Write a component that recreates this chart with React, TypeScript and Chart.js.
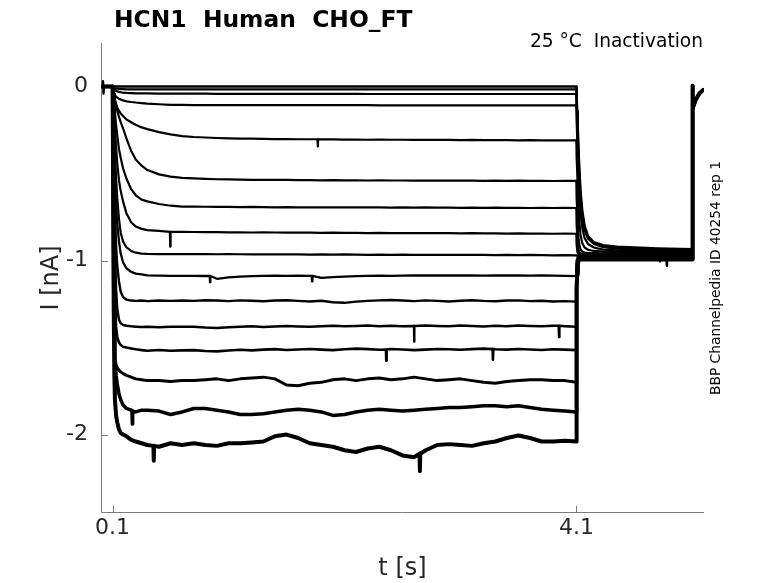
import { useEffect, useRef } from "react";
import { Chart, registerables } from "chart.js";

Chart.register(...registerables);

const TITLE = "HCN1  Human  CHO_FT";
const SUBTITLE = "25 °C  Inactivation";
const SIDE_NOTE = "BBP Channelpedia ID 40254 rep 1";
const X_LABEL = "t [s]";
const Y_LABEL = "I [nA]";
const X_TICKS = [0.1, 4.1];
const Y_TICKS = [0, -1, -2];
const X_RANGE = [0, 5.2];
const Y_RANGE = [-2.445, 0.25];

// time grids (s)
const EARLY_T = [0.005, 0.1, 0.103, 0.106, 0.11, 0.115, 0.12, 0.13, 0.14, 0.155, 0.17, 0.19, 0.22, 0.26, 0.3, 0.35, 0.4, 0.5, 0.6, 0.7];
const STEADY_T = [0.8, 0.9, 1.0, 1.1, 1.2, 1.3, 1.4, 1.5, 1.6, 1.7, 1.8, 1.9, 2.0, 2.1, 2.2, 2.3, 2.4, 2.5, 2.6, 2.7, 2.8, 2.9, 3.0, 3.1, 3.2, 3.3, 3.4, 3.5, 3.6, 3.7, 3.8, 3.9, 4.0, 4.099];
const TAIL_T = [4.1, 4.103, 4.107, 4.112, 4.118, 4.125, 4.135, 4.15, 4.17, 4.2, 4.25, 4.33, 4.45, 4.6, 4.8, 5.0, 5.098];
const END_T = [5.101, 5.103, 5.13, 5.16, 5.2];
const END_I = [0.005, -0.125, -0.075, -0.04, -0.015];

// current (nA), one row per sweep
const EARLY_I = [
  [0, 0, 0, 0, 0, 0, 0, 0, 0, 0, 0, 0, 0, 0, 0, 0, 0, 0, 0, 0],
  [0, 0, -0.003, -0.005, -0.007, -0.009, -0.01, -0.012, -0.013, -0.014, -0.015, -0.015, -0.016, -0.016, -0.016, -0.016, -0.016, -0.016, -0.016, -0.016],
  [0, 0, -0.005, -0.01, -0.014, -0.018, -0.021, -0.025, -0.028, -0.031, -0.033, -0.035, -0.037, -0.038, -0.039, -0.04, -0.04, -0.041, -0.041, -0.041],
  [0, 0, -0.012, -0.022, -0.032, -0.042, -0.05, -0.058, -0.064, -0.07, -0.075, -0.08, -0.085, -0.089, -0.092, -0.095, -0.098, -0.102, -0.105, -0.106],
  [0, 0, -0.015, -0.03, -0.045, -0.06, -0.075, -0.1, -0.12, -0.14, -0.155, -0.17, -0.19, -0.205, -0.22, -0.235, -0.245, -0.262, -0.275, -0.285],
  [0, 0, -0.01, -0.025, -0.04, -0.06, -0.08, -0.11, -0.14, -0.175, -0.205, -0.24, -0.3, -0.37, -0.42, -0.455, -0.48, -0.505, -0.518, -0.525],
  [0, 0, -0.02, -0.045, -0.075, -0.11, -0.15, -0.22, -0.28, -0.36, -0.41, -0.47, -0.53, -0.59, -0.625, -0.65, -0.66, -0.675, -0.685, -0.69],
  [0, 0, -0.03, -0.07, -0.12, -0.18, -0.24, -0.35, -0.44, -0.54, -0.6, -0.66, -0.73, -0.78, -0.805, -0.818, -0.825, -0.83, -0.835, -0.835],
  [0, 0, -0.05, -0.11, -0.19, -0.29, -0.38, -0.53, -0.64, -0.76, -0.84, -0.89, -0.925, -0.945, -0.955, -0.96, -0.962, -0.963, -0.963, -0.963],
  [0, 0, -0.07, -0.16, -0.27, -0.4, -0.52, -0.69, -0.79, -0.89, -0.96, -1.01, -1.045, -1.065, -1.075, -1.08, -1.085, -1.087, -1.088, -1.088],
  [0, 0, -0.1, -0.22, -0.38, -0.56, -0.72, -0.92, -1.03, -1.12, -1.18, -1.21, -1.225, -1.23, -1.232, -1.23, -1.233, -1.23, -1.232, -1.23],
  [0, 0, -0.13, -0.3, -0.52, -0.76, -0.95, -1.17, -1.28, -1.34, -1.36, -1.37, -1.375, -1.378, -1.38, -1.382, -1.38, -1.383, -1.381, -1.38],
  [0, 0, -0.18, -0.4, -0.7, -1.0, -1.2, -1.38, -1.44, -1.47, -1.485, -1.495, -1.5, -1.505, -1.51, -1.515, -1.518, -1.514, -1.518, -1.516],
  [0, 0, -0.3, -0.7, -1.15, -1.45, -1.56, -1.6, -1.615, -1.63, -1.64, -1.65, -1.66, -1.67, -1.68, -1.685, -1.69, -1.69, -1.695, -1.69],
  [0, 0, -0.3, -0.7, -1.15, -1.45, -1.57, -1.66, -1.71, -1.765, -1.8, -1.83, -1.85, -1.86, -1.87, -1.86, -1.86, -1.865, -1.885, -1.87],
  [0, 0, -0.35, -0.8, -1.3, -1.65, -1.8, -1.89, -1.93, -1.97, -1.99, -2.0, -2.01, -2.03, -2.04, -2.05, -2.06, -2.07, -2.05, -2.06],
];

const STEADY_I = [
  [0, 0, 0, 0, 0, 0, 0, 0, 0, 0, 0, 0, 0, 0, 0, 0, 0, 0, 0, 0, 0, 0, 0, 0, 0, 0, 0, 0, 0, 0, 0, 0, 0, 0],
  [-0.016, -0.016, -0.016, -0.016, -0.016, -0.016, -0.016, -0.016, -0.016, -0.016, -0.016, -0.016, -0.016, -0.016, -0.016, -0.016, -0.016, -0.016, -0.016, -0.016, -0.016, -0.016, -0.016, -0.016, -0.016, -0.016, -0.016, -0.016, -0.016, -0.016, -0.016, -0.016, -0.016, -0.016],
  [-0.041, -0.041, -0.042, -0.042, -0.042, -0.042, -0.042, -0.042, -0.042, -0.042, -0.042, -0.042, -0.042, -0.042, -0.042, -0.043, -0.043, -0.043, -0.043, -0.043, -0.043, -0.043, -0.043, -0.043, -0.043, -0.043, -0.043, -0.043, -0.043, -0.043, -0.043, -0.043, -0.043, -0.043],
  [-0.107, -0.107, -0.107, -0.107, -0.107, -0.107, -0.107, -0.107, -0.107, -0.107, -0.107, -0.107, -0.107, -0.107, -0.107, -0.107, -0.108, -0.108, -0.108, -0.108, -0.108, -0.108, -0.108, -0.108, -0.108, -0.108, -0.108, -0.108, -0.108, -0.108, -0.108, -0.108, -0.108, -0.108],
  [-0.29, -0.293, -0.296, -0.298, -0.3, -0.3, -0.301, -0.302, -0.302, -0.303, -0.303, -0.304, -0.304, -0.305, -0.305, -0.306, -0.305, -0.306, -0.306, -0.307, -0.306, -0.307, -0.307, -0.308, -0.307, -0.308, -0.308, -0.308, -0.309, -0.308, -0.309, -0.309, -0.31, -0.31],
  [-0.528, -0.531, -0.533, -0.534, -0.535, -0.536, -0.536, -0.537, -0.537, -0.538, -0.538, -0.539, -0.538, -0.539, -0.539, -0.54, -0.539, -0.54, -0.54, -0.541, -0.54, -0.541, -0.541, -0.54, -0.541, -0.542, -0.541, -0.542, -0.541, -0.542, -0.542, -0.543, -0.542, -0.542],
  [-0.69, -0.691, -0.692, -0.692, -0.693, -0.692, -0.693, -0.694, -0.693, -0.694, -0.694, -0.695, -0.694, -0.695, -0.695, -0.694, -0.695, -0.696, -0.695, -0.696, -0.695, -0.696, -0.696, -0.697, -0.696, -0.697, -0.696, -0.697, -0.697, -0.698, -0.697, -0.698, -0.697, -0.698],
  [-0.836, -0.837, -0.837, -0.838, -0.838, -0.839, -0.838, -0.839, -0.84, -0.839, -0.84, -0.841, -0.84, -0.841, -0.841, -0.842, -0.841, -0.842, -0.842, -0.843, -0.842, -0.843, -0.843, -0.844, -0.843, -0.844, -0.844, -0.845, -0.844, -0.845, -0.845, -0.846, -0.845, -0.846],
  [-0.963, -0.963, -0.964, -0.963, -0.964, -0.965, -0.964, -0.965, -0.964, -0.965, -0.966, -0.965, -0.966, -0.965, -0.966, -0.967, -0.966, -0.967, -0.966, -0.967, -0.968, -0.967, -0.968, -0.967, -0.968, -0.968, -0.969, -0.968, -0.969, -0.968, -0.969, -0.97, -0.969, -0.97],
  [-1.088, -1.089, -1.105, -1.097, -1.093, -1.09, -1.088, -1.087, -1.088, -1.087, -1.088, -1.1, -1.095, -1.092, -1.09, -1.088, -1.087, -1.088, -1.087, -1.086, -1.085, -1.086, -1.085, -1.086, -1.085, -1.087, -1.086, -1.085, -1.086, -1.087, -1.086, -1.087, -1.088, -1.09],
  [-1.232, -1.228, -1.23, -1.233, -1.229, -1.231, -1.234, -1.23, -1.228, -1.232, -1.235, -1.231, -1.24, -1.243, -1.236, -1.232, -1.229, -1.227, -1.23, -1.233, -1.229, -1.232, -1.235, -1.231, -1.228, -1.232, -1.234, -1.23, -1.229, -1.233, -1.231, -1.235, -1.233, -1.236],
  [-1.38, -1.385, -1.388, -1.384, -1.38, -1.378, -1.382, -1.379, -1.376, -1.379, -1.381, -1.377, -1.375, -1.378, -1.376, -1.374, -1.377, -1.375, -1.378, -1.376, -1.373, -1.376, -1.378, -1.374, -1.376, -1.379, -1.375, -1.377, -1.374, -1.376, -1.378, -1.375, -1.377, -1.38],
  [-1.515, -1.52, -1.522, -1.517, -1.513, -1.516, -1.512, -1.509, -1.514, -1.511, -1.508, -1.512, -1.515, -1.51, -1.506, -1.509, -1.513, -1.508, -1.511, -1.515, -1.512, -1.508, -1.51, -1.513, -1.509, -1.506, -1.51, -1.512, -1.508, -1.511, -1.514, -1.51, -1.512, -1.515],
  [-1.69, -1.685, -1.68, -1.69, -1.68, -1.675, -1.67, -1.68, -1.715, -1.72, -1.705, -1.7, -1.685, -1.68, -1.69, -1.68, -1.675, -1.685, -1.68, -1.67, -1.68, -1.69, -1.685, -1.68, -1.69, -1.7, -1.705, -1.695, -1.69, -1.685, -1.685, -1.69, -1.69, -1.7],
  [-1.85, -1.85, -1.86, -1.87, -1.885, -1.885, -1.88, -1.87, -1.86, -1.855, -1.86, -1.87, -1.89, -1.885, -1.87, -1.86, -1.855, -1.86, -1.865, -1.86, -1.855, -1.85, -1.845, -1.845, -1.84, -1.835, -1.835, -1.84, -1.835, -1.845, -1.855, -1.86, -1.865, -1.87],
  [-2.05, -2.06, -2.065, -2.05, -2.05, -2.045, -2.04, -2.01, -2.0, -2.02, -2.05, -2.06, -2.07, -2.09, -2.1, -2.08, -2.07, -2.09, -2.12, -2.13, -2.09, -2.06, -2.055, -2.06, -2.065, -2.05, -2.04, -2.02, -2.005, -2.02, -2.04, -2.04, -2.035, -2.04],
];

const TAIL_I = [
  [0, -0.06, -0.14, -0.24, -0.36, -0.47, -0.6, -0.71, -0.8, -0.86, -0.895, -0.912, -0.92, -0.925, -0.93, -0.933, -0.935],
  [-0.02, -0.08, -0.16, -0.27, -0.39, -0.5, -0.62, -0.73, -0.81, -0.865, -0.9, -0.918, -0.926, -0.931, -0.935, -0.938, -0.94],
  [-0.05, -0.11, -0.2, -0.31, -0.43, -0.54, -0.65, -0.75, -0.825, -0.875, -0.905, -0.923, -0.932, -0.937, -0.941, -0.943, -0.945],
  [-0.12, -0.2, -0.3, -0.42, -0.54, -0.64, -0.73, -0.81, -0.87, -0.905, -0.925, -0.937, -0.942, -0.945, -0.947, -0.949, -0.95],
  [-0.32, -0.4, -0.5, -0.6, -0.7, -0.78, -0.85, -0.9, -0.925, -0.938, -0.945, -0.949, -0.951, -0.952, -0.953, -0.954, -0.955],
  [-0.56, -0.64, -0.72, -0.8, -0.87, -0.91, -0.935, -0.948, -0.954, -0.957, -0.958, -0.959, -0.959, -0.96, -0.96, -0.96, -0.96],
  [-0.72, -0.79, -0.86, -0.91, -0.94, -0.952, -0.958, -0.961, -0.963, -0.964, -0.964, -0.965, -0.965, -0.965, -0.965, -0.965, -0.965],
  [-0.86, -0.91, -0.945, -0.958, -0.963, -0.965, -0.966, -0.967, -0.967, -0.968, -0.968, -0.968, -0.968, -0.968, -0.968, -0.968, -0.968],
  [-0.97, -0.971, -0.971, -0.972, -0.972, -0.972, -0.972, -0.972, -0.972, -0.972, -0.972, -0.972, -0.972, -0.972, -0.972, -0.972, -0.972],
  [-1.03, -1.0, -0.988, -0.98, -0.977, -0.976, -0.976, -0.976, -0.976, -0.976, -0.976, -0.976, -0.976, -0.976, -0.976, -0.976, -0.976],
  [-1.06, -1.02, -0.997, -0.986, -0.981, -0.979, -0.979, -0.979, -0.979, -0.979, -0.979, -0.979, -0.979, -0.979, -0.979, -0.979, -0.979],
  [-1.1, -1.04, -1.005, -0.99, -0.984, -0.982, -0.982, -0.982, -0.982, -0.982, -0.982, -0.982, -0.982, -0.982, -0.982, -0.982, -0.982],
  [-1.14, -1.07, -1.02, -0.997, -0.988, -0.985, -0.985, -0.985, -0.985, -0.985, -0.985, -0.985, -0.985, -0.985, -0.985, -0.985, -0.985],
  [-1.18, -1.1, -1.04, -1.007, -0.993, -0.988, -0.988, -0.988, -0.988, -0.988, -0.988, -0.988, -0.988, -0.988, -0.988, -0.988, -0.988],
  [-1.22, -1.13, -1.06, -1.017, -0.998, -0.991, -0.991, -0.991, -0.991, -0.991, -0.991, -0.991, -0.991, -0.991, -0.991, -0.991, -0.991],
  [-1.26, -1.16, -1.08, -1.027, -1.003, -0.994, -0.994, -0.994, -0.994, -0.994, -0.994, -0.994, -0.994, -0.994, -0.994, -0.994, -0.994],
];

// brief glitches: [sweep, time (s), level (nA), peak (nA)]
const SPIKES = [
  [0, 0.017, 0, 0.03],
  [0, 0.023, 0, -0.04],
  [7, 0.597, -0.835, -0.92],
  [4, 1.87, -0.303, -0.345],
  [9, 0.94, -1.089, -1.125],
  [9, 1.82, -1.088, -1.12],
  [11, 2.7, -1.376, -1.465],
  [11, 3.95, -1.375, -1.44],
  [12, 2.46, -1.511, -1.575],
  [12, 3.38, -1.509, -1.57],
  [14, 0.27, -1.865, -1.94],
  [15, 0.455, -2.065, -2.15],
  [15, 2.75, -2.11, -2.21],
  [12, 4.88, -0.985, -1.03],
  [10, 4.82, -0.979, -1.005],
];

const LINE_WIDTHS = [2.4, 2.2, 2.2, 2.2, 2.2, 2.2, 2.2, 2.2, 2.2, 2.3, 2.4, 2.5, 2.6, 3.0, 3.5, 4.0];

const FONT = "DejaVu Sans";
const AXIS_COLOR = "#7a7a7a";
const TEXT_COLOR = "#262626";

function buildSweep(i: number) {
  const pts: { x: number; y: number }[] = [];
  EARLY_T.forEach((t, k) => pts.push({ x: t, y: EARLY_I[i][k] }));
  STEADY_T.forEach((t, k) => pts.push({ x: t, y: STEADY_I[i][k] }));
  TAIL_T.forEach((t, k) => pts.push({ x: t, y: TAIL_I[i][k] }));
  END_T.forEach((t, k) => pts.push({ x: t, y: END_I[k] }));
  SPIKES.filter((s) => s[0] === i).forEach(([, t, base, peak]) => {
    pts.push({ x: t - 0.003, y: base });
    pts.push({ x: t, y: peak });
    pts.push({ x: t + 0.003, y: base });
  });
  pts.sort((a, b) => a.x - b.x);
  return pts;
}

const decorPlugin = {
  id: "decor",
  beforeDatasetsDraw(chart: any) {
    const { ctx, chartArea, scales } = chart;
    const L = Math.round(chartArea.left) + 0.5;
    const B = Math.round(chartArea.bottom) + 0.5;
    ctx.save();
    ctx.strokeStyle = AXIS_COLOR;
    ctx.lineWidth = 1;
    ctx.beginPath();
    ctx.moveTo(L, chartArea.top);
    ctx.lineTo(L, B);
    ctx.lineTo(chartArea.right, B);
    X_TICKS.forEach((v) => {
      const px = Math.round(scales.x.getPixelForValue(v)) + 0.5;
      ctx.moveTo(px, B);
      ctx.lineTo(px, B - 6.5);
    });
    Y_TICKS.forEach((v) => {
      const py = Math.round(scales.y.getPixelForValue(v)) + 0.5;
      ctx.moveTo(L, py);
      ctx.lineTo(L + 6.5, py);
    });
    ctx.stroke();
    ctx.restore();
  },
  afterDraw(chart: any) {
    const { ctx, chartArea } = chart;
    ctx.save();
    ctx.fillStyle = "#000";
    ctx.textBaseline = "alphabetic";
    ctx.font = `bold 23.4px "${FONT}"`;
    ctx.textAlign = "left";
    ctx.fillText(TITLE, 114, 27);

    ctx.font = `18.6px "${FONT}"`;
    ctx.textAlign = "right";
    ctx.fillText(SUBTITLE, 703, 47);

    ctx.fillStyle = TEXT_COLOR;
    ctx.font = `24px "${FONT}"`;
    ctx.textAlign = "center";
    ctx.fillText(X_LABEL, (chartArea.left + chartArea.right) / 2, 575);

    ctx.save();
    ctx.translate(58, 278);
    ctx.rotate(-Math.PI / 2);
    ctx.fillText(Y_LABEL, 0, 0);
    ctx.restore();

    ctx.fillStyle = "#000";
    ctx.save();
    ctx.translate(720, 278);
    ctx.rotate(-Math.PI / 2);
    ctx.font = `13.8px "${FONT}"`;
    ctx.textAlign = "center";
    ctx.fillText(SIDE_NOTE, 0, 0);
    ctx.restore();
    ctx.restore();
  },
};

export default function App() {
  const canvasRef = useRef<HTMLCanvasElement | null>(null);

  useEffect(() => {
    const canvas = canvasRef.current;
    if (!canvas) return;
    const datasets = EARLY_I.map((_, i) => ({
      data: buildSweep(i),
      borderColor: "#000",
      borderWidth: LINE_WIDTHS[i],
      pointRadius: 0,
      tension: 0,
      fill: false,
      borderJoinStyle: "round" as const,
    }));
    const chart = new Chart(canvas, {
      type: "line",
      data: { datasets },
      options: {
        animation: false,
        responsive: false,
        devicePixelRatio: 1,
        layout: { padding: { left: 0, right: 74, top: 43, bottom: 0 } },
        plugins: {
          legend: { display: false },
          tooltip: { enabled: false },
          title: { display: false },
        },
        scales: {
          x: {
            type: "linear",
            min: X_RANGE[0],
            max: X_RANGE[1],
            grid: { display: false, drawTicks: false },
            border: { display: false },
            afterBuildTicks: (s: any) => {
              s.ticks = X_TICKS.map((v) => ({ value: v }));
            },
            afterFit: (s: any) => {
              s.height = 71;
            },
            ticks: {
              autoSkip: false,
              maxRotation: 0,
              padding: 3,
              color: TEXT_COLOR,
              font: { family: FONT, size: 22 },
              callback: (v: any) => String(v),
            },
          },
          y: {
            type: "linear",
            min: Y_RANGE[0],
            max: Y_RANGE[1],
            grid: { display: false, drawTicks: false },
            border: { display: false },
            afterBuildTicks: (s: any) => {
              s.ticks = Y_TICKS.map((v) => ({ value: v }));
            },
            afterFit: (s: any) => {
              s.width = 101;
            },
            ticks: {
              autoSkip: false,
              padding: 13,
              color: TEXT_COLOR,
              font: { family: FONT, size: 22 },
              callback: (v: any) => String(v),
            },
          },
        },
      },
      plugins: [decorPlugin],
    });
    return () => chart.destroy();
  }, []);

  return (
    <div style={{ position: "absolute", left: 0, top: 0, width: 778, height: 583, background: "#fff" }}>
      <canvas ref={canvasRef} width={778} height={583} style={{ display: "block" }} />
    </div>
  );
}
